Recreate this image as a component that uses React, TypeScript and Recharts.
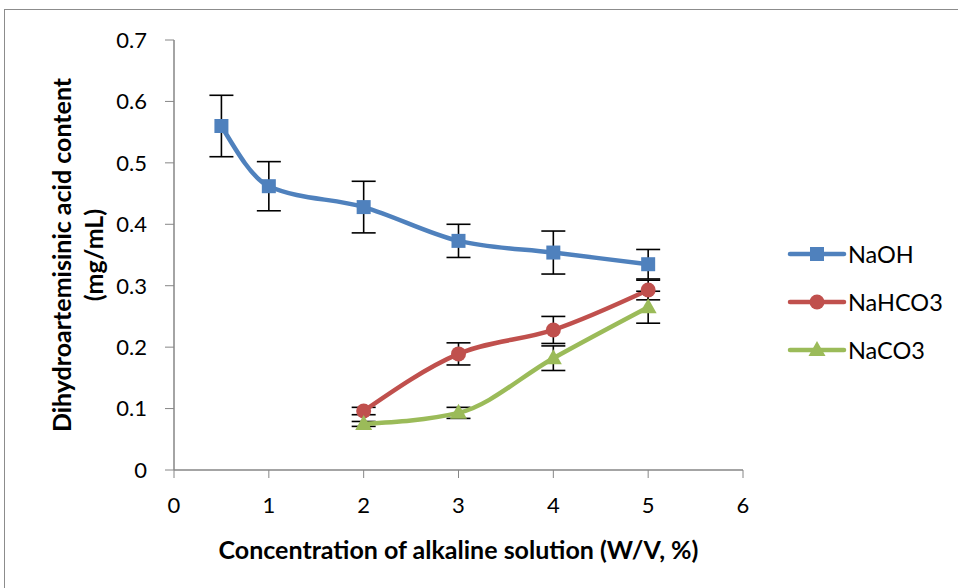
import React from 'react'
import { LineChart, Line, XAxis, YAxis, ErrorBar, Legend } from 'recharts'

const naohX = [0.5, 1, 2, 3, 4, 5]
const naohValues = [0.56, 0.462, 0.428, 0.373, 0.354, 0.335]
const naohErrors = [0.05, 0.04, 0.042, 0.027, 0.035, 0.024]

const nahco3X = [2, 3, 4, 5]
const nahco3Values = [0.096, 0.189, 0.228, 0.293]
const nahco3Errors = [0.006, 0.018, 0.022, 0.016]

const naco3X = [2, 3, 4, 5]
const naco3Values = [0.075, 0.093, 0.182, 0.265]
const naco3Errors = [0.004, 0.009, 0.02, 0.026]

const xTicks = [0, 1, 2, 3, 4, 5, 6]
const yTicks = [0, 0.1, 0.2, 0.3, 0.4, 0.5, 0.6, 0.7]

const FONT = 'Lato, "Liberation Sans", sans-serif'
const AXIS_GRAY = '#868686'

const series = [
  { name: 'NaOH', color: '#4F81BD', shape: 'square', data: naohX.map((x, i) => ({ x, y: naohValues[i], err: naohErrors[i] })) },
  { name: 'NaHCO3', color: '#C0504D', shape: 'circle', data: nahco3X.map((x, i) => ({ x, y: nahco3Values[i], err: nahco3Errors[i] })) },
  { name: 'NaCO3', color: '#9BBB59', shape: 'triangle', data: naco3X.map((x, i) => ({ x, y: naco3Values[i], err: naco3Errors[i] })) },
]

const Marker = ({ cx, cy, shape, color }: { cx: number; cy: number; shape: string; color: string }) => {
  if (shape === 'square') return <rect x={cx - 7} y={cy - 7} width={14} height={14} fill={color} />
  if (shape === 'circle') return <circle cx={cx} cy={cy} r={7.5} fill={color} />
  return <polygon points={`${cx},${cy - 9} ${cx + 8.5},${cy + 6} ${cx - 8.5},${cy + 6}`} fill={color} />
}

const makeDot = (shape: string, color: string) => (props: any) => {
  const { cx, cy, index } = props
  if (cx == null || cy == null) return <g key={index} />
  return <Marker key={index} cx={cx} cy={cy} shape={shape} color={color} />
}

const CustomLegend = () => (
  <div style={{ fontFamily: FONT }}>
    {series.map((s) => (
      <div key={s.name} style={{ display: 'flex', alignItems: 'center', height: 48 }}>
        <svg width={60} height={20}>
          <line x1={3} y1={10} x2={57} y2={10} stroke={s.color} strokeWidth={4.5} strokeLinecap="round" />
          <Marker cx={30} cy={10} shape={s.shape} color={s.color} />
        </svg>
        <span style={{ fontSize: 23.5, color: '#000', marginLeft: 1 }}>{s.name}</span>
      </div>
    ))}
  </div>
)

const YLabel = () => {
  const cy = 255
  return (
    <g>
      <text x={61} y={cy} transform={`rotate(-90 61 ${cy})`} textAnchor="middle" dominantBaseline="central"
        fontFamily={FONT} fontWeight="bold" fontSize={25} fill="#000">
        Dihydroartemisinic acid content
      </text>
      <text x={93} y={cy} transform={`rotate(-90 93 ${cy})`} textAnchor="middle" dominantBaseline="central"
        fontFamily={FONT} fontWeight="bold" fontSize={25} fill="#000">
        (mg/mL)
      </text>
    </g>
  )
}

export default function App() {
  return (
    <div style={{ position: 'absolute', left: 0, top: 0, width: 958, height: 588, overflow: 'hidden', background: '#fff' }}>
      <div style={{ position: 'absolute', left: 4, top: 9, width: 1200, height: 1200, border: '1.5px solid #8c8c8c' }} />
      <div style={{ position: 'absolute', left: 0, top: 0 }}>
        <LineChart width={958} height={588} margin={{ top: 40, right: 215, left: 0, bottom: 0 }}>
          <XAxis
            type="number"
            dataKey="x"
            domain={[0, 6]}
            ticks={xTicks}
            allowDuplicatedCategory={false}
            height={118}
            tickSize={8}
            tickMargin={19}
            axisLine={{ stroke: AXIS_GRAY, strokeWidth: 1.5 }}
            tickLine={{ stroke: AXIS_GRAY }}
            tick={{ fontFamily: FONT, fontSize: 22, fill: '#000' }}
            label={{ value: 'Concentration of alkaline solution (W/V, %)', position: 'insideBottom', offset: 29, fontFamily: FONT, fontWeight: 'bold', fontSize: 25, fill: '#000' }}
          />
          <YAxis
            type="number"
            domain={[0, 0.7]}
            ticks={yTicks}
            width={174}
            tickSize={9}
            tickMargin={18}
            axisLine={{ stroke: AXIS_GRAY, strokeWidth: 1.5 }}
            tickLine={{ stroke: AXIS_GRAY }}
            tick={{ fontFamily: FONT, fontSize: 22, fill: '#000' }}
            label={<YLabel />}
          />
          <Legend
            content={<CustomLegend />}
            layout="horizontal"
            verticalAlign="middle"
            align="center"
            wrapperStyle={{ left: 787, top: 230, width: 171 }}
          />
          {series.map((s) => (
            <Line
              key={s.name}
              data={s.data}
              dataKey="y"
              name={s.name}
              type="monotone"
              stroke={s.color}
              strokeWidth={4.5}
              dot={makeDot(s.shape, s.color)}
              activeDot={false}
              isAnimationActive={false}
            >
              <ErrorBar dataKey="err" direction="y" width={12} stroke="#000" strokeWidth={1.6} />
            </Line>
          ))}
        </LineChart>
      </div>
    </div>
  )
}
